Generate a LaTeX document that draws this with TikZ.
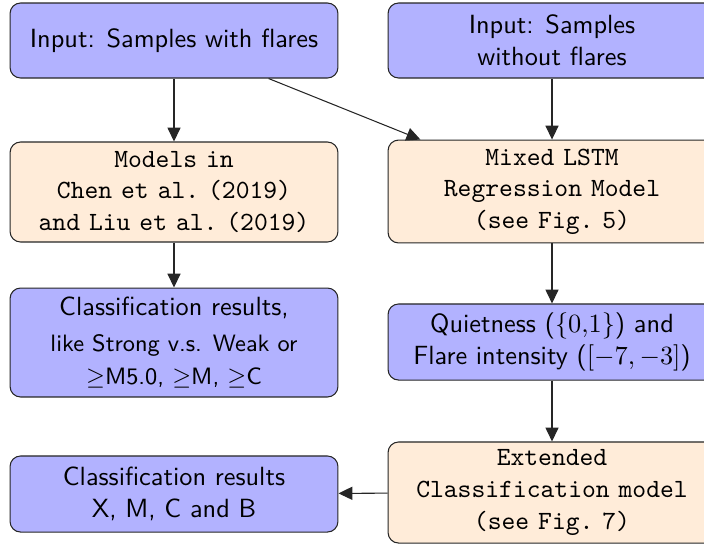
\documentclass[tikz,border=0pt]{standalone}
\usetikzlibrary{arrows.meta}
\begin{document}
\begin{tikzpicture}[x=0.38pt,y=-0.38pt,
  box/.style={draw=black!85, rounded corners=4pt, minimum width=124.6pt,
    align=center, inner xsep=2pt, inner ysep=1pt},
  bluebox/.style={box, fill=blue!30, font=\sffamily},
  orangebox/.style={box, fill=orange!15,
    font={\ttfamily\spaceskip=3.4pt\xspaceskip=3.4pt\relax}},
  arr/.style={draw=black!85, -{Triangle[length=5.3pt,width=5pt]}}]
\useasboundingbox (0,0) rectangle (704,546);

% left column
\node[bluebox, minimum height=28.5pt] (in1) at (174,40.5)
  {Input: Samples with flares};
\node[orangebox, minimum height=38pt] (prev) at (174,192)
  {Models in\\Chen et al. (2019)\\and Liu et al. (2019)};
\node[bluebox, minimum height=41.4pt] (cls1) at (174,342.5)
  {Classification results,\\[1.7pt]
   {\small like Strong v.s. Weak or}\\[0.2pt]
   {\small $\geq$M5.0, $\geq$M, $\geq$C}};
\node[bluebox, minimum height=28.9pt] (cls2) at (174,494)
  {Classification results\\X, M, C and B};

% right column
\node[bluebox, minimum height=28.5pt] (in2) at (552,40.5)
  {Input: Samples\\without flares};
\node[orangebox, minimum height=39.1pt] (lstm) at (552,191.5)
  {Mixed LSTM\\Regression Model\\(see Fig. 5)};
\node[bluebox, minimum height=28.9pt] (out) at (552,342)
  {Quietness ($\{0{,}1\}$) and\\Flare intensity ($[-7,-3]$)};
\node[orangebox, minimum height=38.4pt] (ext) at (552,492.5)
  {Extended\\Classification model\\(see Fig. 7)};

% connectors
\draw[arr] (in1) -- (prev);
\draw[arr] (prev) -- (cls1);
\draw[arr] (in1) -- ([xshift=12.5pt]lstm.north west);
\draw[arr] (in2) -- (lstm);
\draw[arr] (lstm) -- (out);
\draw[arr] (out) -- (ext);
\draw[arr] (ext) -- (cls2);
\end{tikzpicture}
\end{document}
